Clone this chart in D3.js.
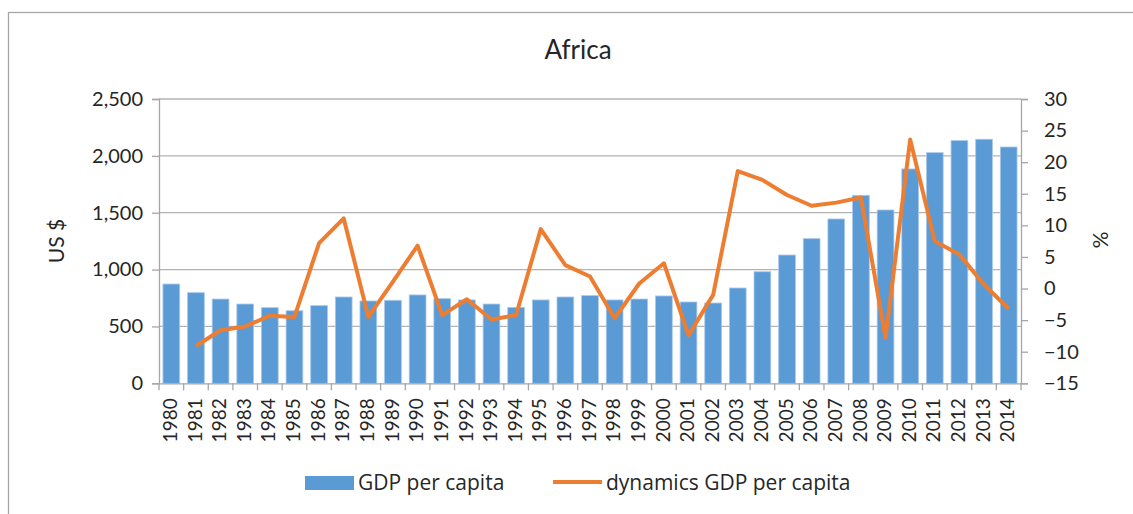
<!DOCTYPE html>
<html>
<head>
<meta charset="utf-8">
<script src="https://cdn.jsdelivr.net/npm/d3@7"></script>
<style>
  body { margin: 0; background: #fff; }
  text { font-family: Lato, "Open Sans", sans-serif; fill: #262626; }
</style>
</head>
<body>
<div id="chart"></div>
<script>
var years = ["1980","1981","1982","1983","1984","1985","1986","1987","1988","1989",
             "1990","1991","1992","1993","1994","1995","1996","1997","1998","1999",
             "2000","2001","2002","2003","2004","2005","2006","2007","2008","2009",
             "2010","2011","2012","2013","2014"];
var gdpPerCapita = [873, 797, 741, 697, 665, 638, 683, 759, 724, 730,
                    777, 744, 733, 697, 668, 733, 759, 771, 733, 741,
                    768, 715, 706, 838, 981, 1128, 1272, 1445, 1653, 1524,
                    1885, 2028, 2134, 2146, 2078];
var dynamics = [null, -9.1, -6.6, -6.0, -4.3, -4.5, 7.2, 11.1, -4.5, 1.1,
                6.8, -4.2, -1.7, -4.9, -4.2, 9.4, 3.7, 1.9, -4.7, 0.8,
                4.0, -7.4, -1.0, 18.6, 17.2, 14.8, 13.1, 13.6, 14.4, -7.8,
                23.6, 7.5, 5.4, 0.6, -3.2];
var leftTicks = [0, 500, 1000, 1500, 2000, 2500];
var rightTicks = [-15, -10, -5, 0, 5, 10, 15, 20, 25, 30];
var seriesNames = ["GDP per capita", "dynamics GDP per capita"];

function init() {
    var w = 1133;
    var h = 514;
    var left = 159, right = 1021, top = 99, bottom = 383.3;

    var svg = d3.select("#chart")
        .append("svg")
        .attr("width", w)
        .attr("height", h);

    // chart frame
    svg.append("rect")
        .attr("x", 8.5).attr("y", 12.5)
        .attr("width", 1200).attr("height", 600)
        .style("fill", "none").style("stroke", "#a6a6a6").style("stroke-width", 1.3);

    var x = d3.scaleBand().domain(years).range([left, right]).paddingInner(0.32).paddingOuter(0.16);
    var band = d3.scaleBand().domain(years).range([left, right]);
    var yL = d3.scaleLinear().domain([0, 2500]).range([bottom, top]);
    var yR = d3.scaleLinear().domain([-15, 30]).range([bottom, top]);

    // gridlines
    svg.append("g").selectAll("line")
        .data(leftTicks.slice(1))
        .enter().append("line")
        .attr("x1", left).attr("x2", right)
        .attr("y1", function(d){ return yL(d); })
        .attr("y2", function(d){ return yL(d); })
        .style("stroke", "#b3b3b3").style("stroke-width", 1.3);

    // bars
    svg.append("g").selectAll("rect")
        .data(gdpPerCapita)
        .enter().append("rect")
        .attr("x", function(d, i){ return x(years[i]); })
        .attr("y", function(d){ return yL(d); })
        .attr("width", x.bandwidth())
        .attr("height", function(d){ return bottom - yL(d); })
        .style("fill", "#5b9bd5")
        .style("stroke", "#a9c9ec").style("stroke-width", 0.8);

    // left axis
    var axL = svg.append("g")
        .attr("transform", "translate(" + left + ",0)")
        .call(d3.axisLeft(yL).tickValues(leftTicks).tickSize(7).tickPadding(9)
              .tickFormat(d3.format(",")));
    axL.select(".domain").style("stroke", "#a6a6a6").style("stroke-width", 1.3);
    axL.selectAll(".tick line").style("stroke", "#a6a6a6").style("stroke-width", 1.3);
    axL.selectAll("text").style("font-size", "20px").style("fill", "#262626")
        .style("font-family", "Lato, sans-serif");

    // right axis
    var axR = svg.append("g")
        .attr("transform", "translate(" + right + ",0)")
        .call(d3.axisRight(yR).tickValues(rightTicks).tickSize(7).tickPadding(16));
    axR.select(".domain").style("stroke", "#a6a6a6").style("stroke-width", 1.3);
    axR.selectAll(".tick line").style("stroke", "#a6a6a6").style("stroke-width", 1.3);
    axR.selectAll("text").style("font-size", "20px").style("fill", "#262626")
        .style("font-family", "Lato, sans-serif");

    // x axis
    var axX = svg.append("g")
        .attr("transform", "translate(0," + bottom + ")")
        .call(d3.axisBottom(band).tickSize(0).tickPadding(0));
    axX.select(".domain").style("stroke", "#a6a6a6").style("stroke-width", 1.3);
    axX.selectAll("text")
        .style("font-size", "19px").style("fill", "#262626")
        .style("font-family", "Lato, sans-serif")
        .attr("text-anchor", "end")
        .attr("transform", "translate(-1,15) rotate(-90)")
        .attr("dy", "0.35em").attr("y", 0).attr("x", 0);
    // category boundary ticks
    svg.append("g").selectAll("line")
        .data(years.concat(["end"]))
        .enter().append("line")
        .attr("x1", function(d, i){ return left + i * band.bandwidth(); })
        .attr("x2", function(d, i){ return left + i * band.bandwidth(); })
        .attr("y1", bottom).attr("y2", bottom + 7)
        .style("stroke", "#a6a6a6").style("stroke-width", 1.3);

    // line
    var line = d3.line()
        .defined(function(d){ return d !== null; })
        .x(function(d, i){ return band(years[i]) + band.bandwidth() / 2; })
        .y(function(d){ return yR(d); });
    svg.append("path")
        .datum(dynamics)
        .attr("d", line)
        .style("fill", "none")
        .style("stroke", "#ed7d31")
        .style("stroke-width", 4)
        .style("stroke-linejoin", "round");

    // title
    svg.append("text")
        .attr("x", 578).attr("y", 59)
        .attr("text-anchor", "middle")
        .style("font-size", "26px")
        .text("Africa");

    // axis titles
    svg.append("text")
        .attr("transform", "translate(64,241) rotate(-90)")
        .attr("text-anchor", "middle")
        .style("font-size", "21px")
        .text("US $");
    svg.append("text")
        .attr("transform", "translate(1093,240) rotate(90)")
        .attr("text-anchor", "middle")
        .style("font-size", "21px")
        .text("%");

    // legend
    svg.append("rect")
        .attr("x", 305).attr("y", 476)
        .attr("width", 49).attr("height", 14)
        .style("fill", "#5b9bd5");
    svg.append("text")
        .attr("x", 358).attr("y", 490)
        .style("font-size", "21px")
        .style("font-family", "'Open Sans', sans-serif")
        .text(seriesNames[0]);
    svg.append("line")
        .attr("x1", 553).attr("x2", 602)
        .attr("y1", 482).attr("y2", 482)
        .style("stroke", "#ed7d31").style("stroke-width", 4);
    svg.append("text")
        .attr("x", 606).attr("y", 490)
        .style("font-size", "21px")
        .style("font-family", "'Open Sans', sans-serif")
        .text(seriesNames[1]);
}

window.onload = init;
</script>
</body>
</html>
